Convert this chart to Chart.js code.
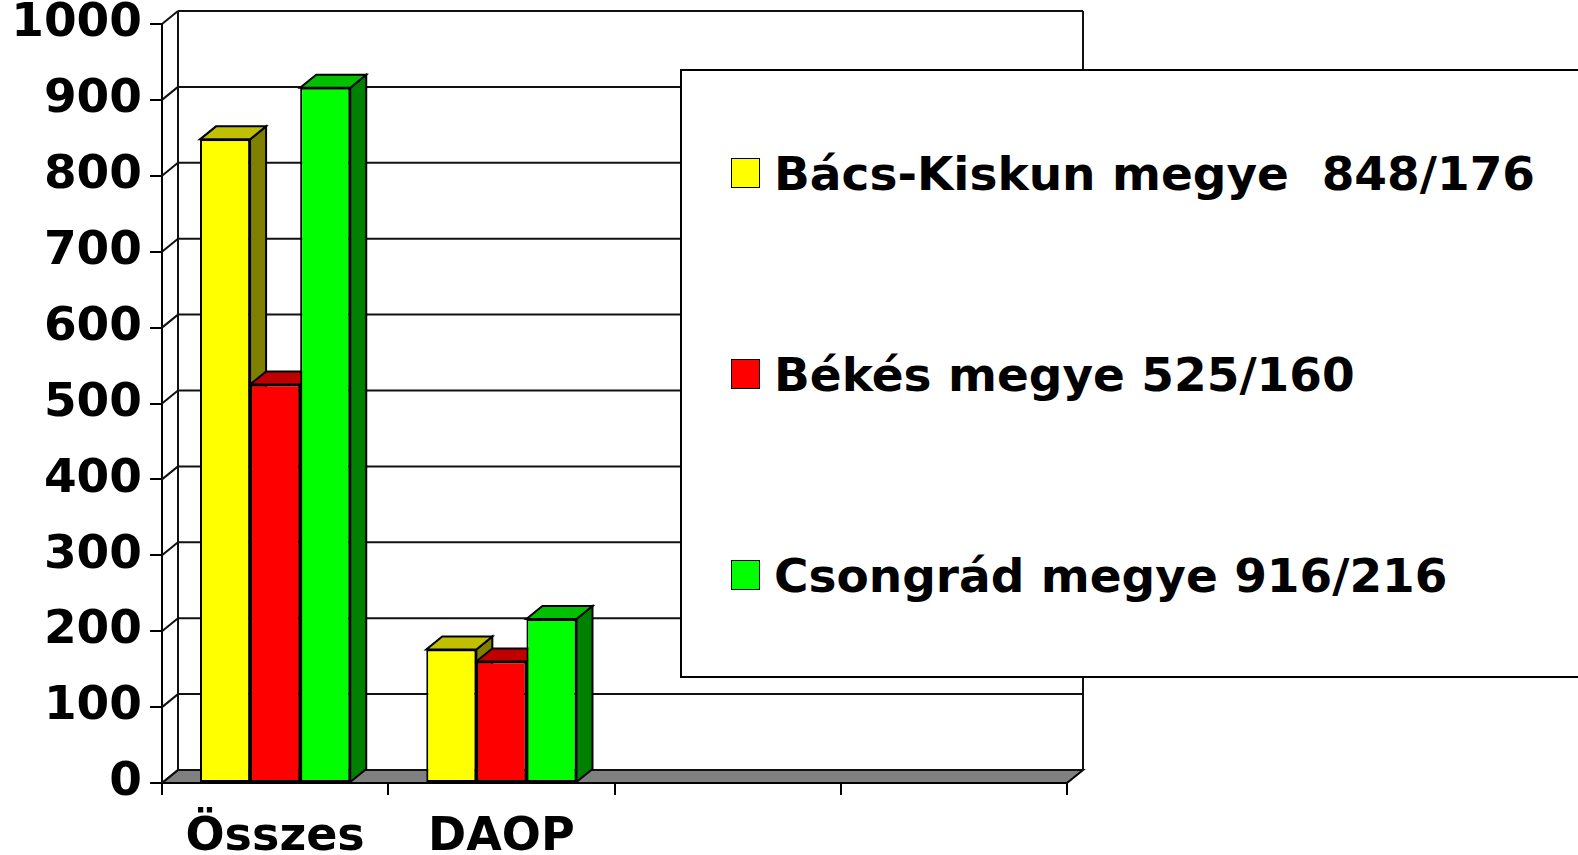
<!DOCTYPE html>
<html>
<head>
<meta charset="utf-8">
<script src="https://cdn.jsdelivr.net/npm/chart.js@4.4.0/dist/chart.umd.min.js"></script>
<style>
  html, body { margin: 0; padding: 0; background: #fff; }
  #wrap { position: relative; width: 1578px; height: 855px; overflow: hidden; }
  #c { position: absolute; left: 0; top: 0; }
  #legend { position: absolute; left: 680px; top: 69px; width: 1000px; height: 605px;
            border: 2px solid #000; background: #fff; font-family: "DejaVu Sans", Verdana, sans-serif;
            font-weight: bold; font-size: 47px; color: #000; }
  .row { position: absolute; left: 0; height: 46px; line-height: 46px; white-space: pre; }
  .sw { position: absolute; width: 27px; height: 28px; border: 1px solid #000; }
  .tx { position: absolute; left: 92px; top: 0; }
</style>
</head>
<body>
<div id="wrap">
  <canvas id="c" width="1578" height="855"></canvas>
  <div id="legend"></div>
</div>
<script>
// ---- data ----
const categories = ['Összes', 'DAOP', '', ''];
const bacsKiskun = [848, 176, null, null];
const bekes = [525, 160, null, null];
const csongrad = [916, 216, null, null];
const seriesLabels = ['Bács-Kiskun megye  848/176', 'Békés megye 525/160', 'Csongrád megye 916/216'];
const yMin = 0, yMax = 1000, yStep = 100;

// ---- styles ----
const FONT = '"DejaVu Sans", Verdana, sans-serif';
const frontColors = ['#FFFF00', '#FF0000', '#00FF00'];
const topColors = ['#C0C000', '#C00000', '#00C000'];
const sideColors = ['#808000', '#800000', '#008000'];
const DX = 16, DY = 13;

function line(ctx, x1, y1, x2, y2) {
  ctx.beginPath(); ctx.moveTo(x1, y1); ctx.lineTo(x2, y2); ctx.stroke();
}

const depth3d = {
  id: 'depth3d',
  beforeDatasetsDraw(chart) {
    const ctx = chart.ctx;
    const { left, right, bottom } = chart.chartArea;
    const ys = chart.scales.y;
    ctx.save();
    // floor
    ctx.beginPath();
    ctx.moveTo(left, bottom); ctx.lineTo(right, bottom);
    ctx.lineTo(right + DX, bottom - DY); ctx.lineTo(left + DX, bottom - DY);
    ctx.closePath();
    ctx.fillStyle = '#808080'; ctx.fill();
    ctx.lineWidth = 2; ctx.strokeStyle = '#000'; ctx.stroke();
    // back wall grid + side diagonals
    ctx.lineWidth = 2; ctx.strokeStyle = '#111';
    ys.ticks.forEach(t => {
      const py = ys.getPixelForValue(t.value);
      line(ctx, left + DX, py - DY, right + DX, py - DY);
      line(ctx, left, py, left + DX, py - DY);
    });
    const topY = ys.getPixelForValue(yMax) - DY;
    line(ctx, left + DX, topY, left + DX, bottom - DY);
    line(ctx, right + DX, topY, right + DX, bottom - DY);
    // bar sides and tops
    ctx.lineJoin = 'miter';
    chart.data.datasets.forEach((ds, i) => {
      const meta = chart.getDatasetMeta(i);
      meta.data.forEach((el, j) => {
        if (ds.data[j] == null) return;
        const p = el.getProps(['x', 'y', 'base', 'width'], true);
        const xl = p.x - p.width / 2, xr = p.x + p.width / 2;
        const ty = p.y, by = p.base;
        ctx.lineWidth = 2; ctx.strokeStyle = '#000';
        // side
        ctx.beginPath();
        ctx.moveTo(xr, ty); ctx.lineTo(xr + DX, ty - DY);
        ctx.lineTo(xr + DX, by - DY); ctx.lineTo(xr, by); ctx.closePath();
        ctx.fillStyle = sideColors[i]; ctx.fill(); ctx.stroke();
        // top
        ctx.beginPath();
        ctx.moveTo(xl, ty); ctx.lineTo(xr, ty);
        ctx.lineTo(xr + DX, ty - DY); ctx.lineTo(xl + DX, ty - DY); ctx.closePath();
        ctx.fillStyle = topColors[i]; ctx.fill(); ctx.stroke();
      });
    });
    ctx.restore();
  }
};

const seriesData = [bacsKiskun, bekes, csongrad];
const datasets = seriesData.map((d, i) => ({
  label: seriesLabels[i],
  data: d,
  backgroundColor: frontColors[i],
  borderColor: '#000',
  borderWidth: 2,
  borderSkipped: false,
  categoryPercentage: 0.664,
  barPercentage: 1.0
}));

const xFont = { family: FONT, size: 46, weight: 'bold', lineHeight: 1 };
const yFont = { family: FONT, size: 47, weight: 'bold', lineHeight: 1 };

new Chart(document.getElementById('c'), {
  type: 'bar',
  data: { labels: categories, datasets },
  options: {
    responsive: false,
    animation: false,
    events: [],
    layout: { padding: { top: 24, right: 511, left: 0, bottom: 0 } },
    plugins: { legend: { display: false }, tooltip: { enabled: false } },
    scales: {
      x: {
        offset: true,
        grid: { offset: true, drawOnChartArea: false, drawTicks: true, tickLength: 12, color: '#000', lineWidth: 2 },
        border: { display: true, color: '#000', width: 2 },
        ticks: { color: '#000', font: xFont, padding: 20, maxRotation: 0, autoSkip: false },
        afterFit: s => { s.height = 72; s.paddingLeft = 0; s.paddingRight = 0; }
      },
      y: {
        min: yMin, max: yMax,
        grid: { drawOnChartArea: false, drawTicks: true, tickLength: 12, color: '#000', lineWidth: 2 },
        border: { display: true, color: '#000', width: 2 },
        ticks: { stepSize: yStep, color: '#000', font: yFont, padding: 8, callback: v => String(v) },
        afterFit: s => { s.width = 162; s.paddingTop = 0; s.paddingBottom = 0; }
      }
    }
  },
  plugins: [depth3d]
});

// ---- legend (HTML, real text) ----
const legend = document.getElementById('legend');
const rowBaselines = [190, 391, 592];
seriesLabels.forEach((lab, i) => {
  const row = document.createElement('div');
  row.className = 'row';
  row.style.top = (rowBaselines[i] - 39 - 71) + 'px';
  row.style.width = '900px';
  const sw = document.createElement('div');
  sw.className = 'sw';
  sw.style.left = '49px';
  sw.style.top = '7px';
  sw.style.background = frontColors[i];
  const tx = document.createElement('span');
  tx.className = 'tx';
  tx.textContent = lab;
  row.appendChild(sw); row.appendChild(tx);
  legend.appendChild(row);
});
</script>
</body>
</html>
